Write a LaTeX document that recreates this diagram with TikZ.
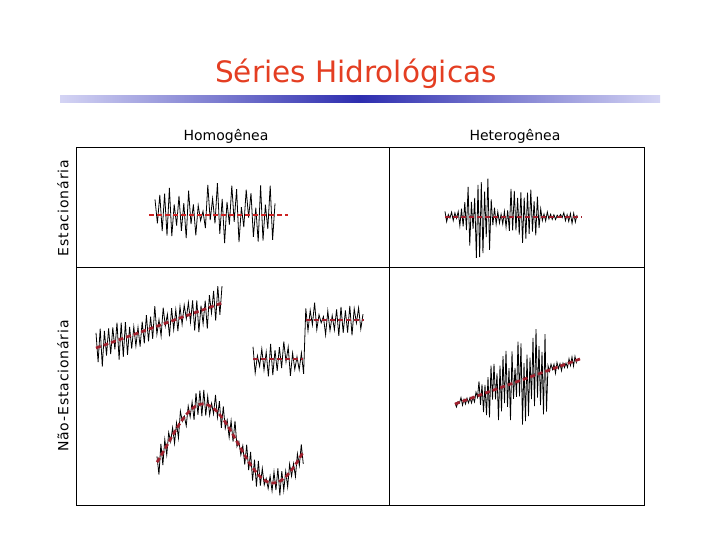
\documentclass[tikz,border=0pt]{standalone}
\usepackage{fontspec}
\setmainfont{DejaVu Sans}
\definecolor{titlered}{RGB}{228,62,34}
\definecolor{meanred}{RGB}{205,35,35}
\definecolor{meandark}{RGB}{160,32,45}
\definecolor{barblue}{RGB}{45,45,175}
\definecolor{barlight}{RGB}{212,212,244}
\begin{document}
\begin{tikzpicture}[x=1pt,y=-1pt,
  series/.style={line width=0.8pt, line join=miter, black},
  meanline/.style={line width=2.7pt, dash pattern=on 5pt off 3pt},
  hdr/.style={font=\fontsize{14}{16}\selectfont, inner sep=0pt},
  frame/.style={line width=1pt}]
\useasboundingbox (0,0) rectangle (720,540);
\fill[white] (0,0) rectangle (720,540);

% title and bar
\node[titlered, anchor=base, inner sep=0pt, font=\fontsize{29.5}{32}\selectfont] (title) at (356,83) {Séries Hidrológicas};
\shade[left color=barlight, right color=barlight, middle color=barblue] (60,96) rectangle (660,103);

% headers
\node[hdr, anchor=base] (homog) at (226,141) {Homogênea};
\node[hdr, anchor=base] (heterog) at (515,141) {Heterogênea};
\node[hdr, rotate=90] (estac) at (63,208) {\addfontfeature{LetterSpace=7}Estacionária};
\node[hdr, rotate=90] (naoestac) at (63,386) {\addfontfeature{LetterSpace=6}Não-Estacionária};

% table frame
\draw[frame] (76,148) rectangle (644,505);
\draw[frame] (76,267) -- (644,267);
\draw[frame] (389,148) -- (389,505);

% top-left: stationary homogeneous
\pgfmathsetseed{11}
\draw[series] plot[samples at={0,...,50}]
  ({155+2.4*\x}, {215+(2*mod(\x,2)-1)*(6+24*rnd)+4*rand});
\draw[meanline, meanred] (149,215) -- (288,215);

% top-right: stationary heterogeneous
\pgfmathsetseed{23}
\draw[series] plot[samples at={0,...,80}]
  ({445+1.65*\x}, {217+(2*mod(\x,2)-1)*(5+40*(\x>7.8)*(\x<60.6)*abs(sin((1.65*\x-13)*4.138)))*(0.3+0.7*rnd)+2*rand});
\draw[meanline, meandark] (445,217) -- (582,217);

% bottom-left: trend
\pgfmathsetseed{37}
\draw[series] plot[samples at={0,...,60}]
  ({96+2.1*\x}, {348-0.75*\x+(2*mod(\x,2)-1)*(5+16*rnd)+3*rand});
\draw[meanline, meandark] (96,348) -- (222,303);

% bottom-left: step
\pgfmathsetseed{41}
\draw[series] plot[samples at={0,...,50}]
  ({253+2.2*\x}, {(\x<23.8)*359+(\x>=23.8)*320+(2*mod(\x,2)-1)*(4+13*rnd)+3*rand});
\draw[meanline, meandark] (253,359) -- (303,359);
\draw[meanline, meandark] (306,320) -- (364,320);

% bottom-left: periodic
\pgfmathsetseed{53}
\draw[series] plot[samples at={0,...,75}]
  ({157+1.95*\x}, {443.5-39.5*cos((1.95*\x-46)*2.5714)+(2*mod(\x,2)-1)*(3+12*rnd)+3*rand});
\draw[meanline, meandark] plot[domain=157:303, samples=60]
  (\x, {443.5-39.5*cos((\x-203)*2.5714)});

% bottom-right: trend + heterogeneous
\pgfmathsetseed{67}
\draw[series] plot[samples at={0,...,81}]
  ({455+1.5*\x}, {404-0.54*\x+(2*mod(\x,2)-1)*(4+(\x>15.3)*(\x<62)*(14+1.05*(\x-15.3)))*(0.3+0.7*rnd)+2*rand});
\draw[meanline, meandark] (455,404) -- (580,359);
\end{tikzpicture}
\end{document}
